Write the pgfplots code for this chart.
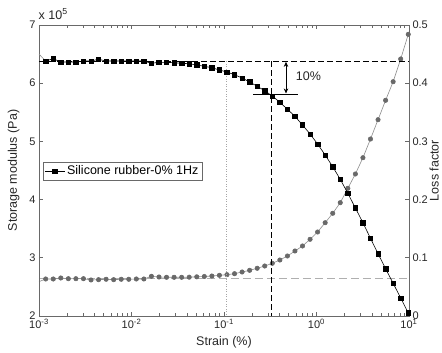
\documentclass[border=0pt]{standalone}
\usepackage{fontspec}
\setmainfont{Liberation Sans}
\usepackage{pgfplots}
\pgfplotsset{compat=1.18}
\usepackage{pgfplotstable}
\usetikzlibrary{arrows.meta}
\definecolor{axgray}{RGB}{105,105,105}
\definecolor{dotgray}{RGB}{105,105,105}
\definecolor{linegray}{RGB}{140,140,140}
\definecolor{dashgray}{RGB}{175,175,175}

\pgfplotstableread{
x s l
0.001181 6.381 0.0636
0.001426 6.421 0.0636
0.001720 6.364 0.0653
0.002077 6.364 0.0641
0.002506 6.364 0.0641
0.003024 6.381 0.0641
0.003651 6.381 0.0619
0.004406 6.411 0.0624
0.005318 6.381 0.0631
0.006417 6.381 0.0624
0.007745 6.381 0.0631
0.009348 6.381 0.0631
0.01128 6.381 0.0636
0.01361 6.381 0.0636
0.01643 6.342 0.0682
0.01983 6.359 0.0670
0.02393 6.359 0.0665
0.02888 6.352 0.0665
0.03486 6.342 0.0665
0.04207 6.335 0.0667
0.05077 6.313 0.0673
0.06129 6.290 0.0679
0.07395 6.266 0.0687
0.08925 6.227 0.0699
0.1077 6.192 0.0710
0.1300 6.146 0.0727
0.1569 6.089 0.0756
0.1893 6.021 0.0785
0.2285 5.947 0.0820
0.2757 5.871 0.0859
0.3328 5.780 0.0905
0.4017 5.672 0.0962
0.4848 5.552 0.1031
0.5851 5.431 0.1117
0.7062 5.282 0.1203
0.8522 5.127 0.1318
1.028 4.955 0.1443
1.241 4.766 0.1603
1.498 4.565 0.1765
1.807 4.349 0.1947
2.182 4.108 0.2194
2.633 3.856 0.2440
3.178 3.603 0.2720
3.835 3.335 0.3041
4.628 3.070 0.3373
5.586 2.813 0.3706
6.742 2.562 0.4026
8.136 2.309 0.4416
9.820 2.052 0.4840
}\datatable

\begin{document}
\begin{tikzpicture}
% loss factor (right axis)
\begin{axis}[
  scale only axis, width=370pt, height=291pt,
  xmode=log, xmin=1e-3, xmax=10,
  tick align=inside,
  axis line style={axgray, line width=0.7pt},
  every tick/.style={axgray, line width=0.6pt},
  major tick length=4pt, minor tick length=2.5pt,
  tick label style={font=\fontsize{11}{13}\selectfont, text=black!85},
  /pgf/number format/assume math mode=true,
  label style={font=\fontsize{12.5}{15}\selectfont, text=black!85},
  ymin=0, ymax=0.5,
  axis x line=none, axis y line*=right,
  ytick={0,0.1,0.2,0.3,0.4,0.5},
  ylabel={Loss factor},
  ylabel style={at={(axis description cs:1.055,0.5)}, anchor=north, inner sep=0pt},
  clip mode=individual,
]
\addplot[dashgray, line width=0.7pt, dash pattern=on 8pt off 4pt, forget plot] coordinates {(0.001,0.064) (10,0.064)};
\addplot[linegray, line width=0.6pt, forget plot] coordinates {(0.001,0.059) (0.001181,0.0636)};
\addplot[linegray, line width=0.6pt, mark=*, mark size=2.2pt, mark options={solid, draw=dotgray, fill=dotgray}] table[x=x, y=l] {\datatable};
\end{axis}
% storage modulus (left axis)
\begin{axis}[
  scale only axis, width=370pt, height=291pt,
  xmode=log, xmin=1e-3, xmax=10,
  tick align=inside,
  axis line style={axgray, line width=0.7pt},
  every tick/.style={axgray, line width=0.6pt},
  major tick length=4pt, minor tick length=2.5pt,
  tick label style={font=\fontsize{11}{13}\selectfont, text=black!85},
  /pgf/number format/assume math mode=true,
  label style={font=\fontsize{12.5}{15}\selectfont, text=black!85},
  ymin=2, ymax=7,
  xtick={0.001,0.01,0.1,1,10},
  xticklabels={10\textsuperscript{-3},10\textsuperscript{-2},10\textsuperscript{-1},10\textsuperscript{0},10\textsuperscript{1}},
  ytick={2,3,4,5,6,7},
  ytick pos=left, xtick pos=both,
  xlabel={Strain (\%)}, ylabel={Storage modulus (Pa)},
  xlabel style={at={(axis description cs:0.5,-0.069)}, anchor=north, inner sep=0pt},
  ylabel style={at={(axis description cs:-0.052,0.5)}, anchor=south, inner sep=0pt},
  legend style={at={(axis description cs:0.01,0.529)}, anchor=north west,
    draw=axgray, line width=0.6pt, fill=white, inner xsep=1.5pt, inner ysep=1.5pt,
    font=\fontsize{12.5}{15}\selectfont, legend cell align=left},
  legend image code/.code={\draw[mark repeat=2,mark phase=2] plot coordinates {(0pt,0pt) (10pt,0pt) (20pt,0pt)};},
  clip mode=individual,
]
\addplot[black, line width=0.6pt, dash pattern=on 6pt off 3pt, forget plot] coordinates {(0.001,6.376) (10,6.376)};
\addplot[black, line width=0.6pt, dash pattern=on 6pt off 3pt, forget plot] coordinates {(0.328,6.376) (0.328,2)};
\addplot[gray!70, line width=0.5pt, dash pattern=on 1pt off 1.5pt, forget plot] coordinates {(0.107,6.376) (0.107,2)};
\addplot[black, line width=0.6pt, forget plot] coordinates {(0.2075,5.814) (0.627,5.814)};
\addplot[linegray, line width=0.6pt, forget plot] coordinates {(0.001,6.50) (0.001181,6.381)};
\addplot[black, line width=0.6pt, mark=square*, mark size=2.2pt, mark options={solid, fill=black}] table[x=x, y=s] {\datatable};
\addlegendentry{Silicone rubber-0\% 1Hz}
\draw[{Stealth[length=5pt,width=4.5pt]}-{Stealth[length=5pt,width=4.5pt]}, line width=0.6pt] (axis cs:0.468,6.366) -- (axis cs:0.468,5.824);
\node[anchor=west, inner sep=0pt, font=\fontsize{12.5}{15}\selectfont, text=black!85] at (axis cs:0.596,6.124) {10\%};
\node[anchor=base west, inner sep=0pt, font=\fontsize{12.5}{15}\selectfont, text=black!85] at ([xshift=-0.5pt,yshift=5.7pt]rel axis cs:0,1) {x 10\textsuperscript{5}};
\end{axis}
\pgfresetboundingbox
\useasboundingbox (-39pt,-37pt) rectangle (403pt,316pt);
\end{tikzpicture}
\end{document}
